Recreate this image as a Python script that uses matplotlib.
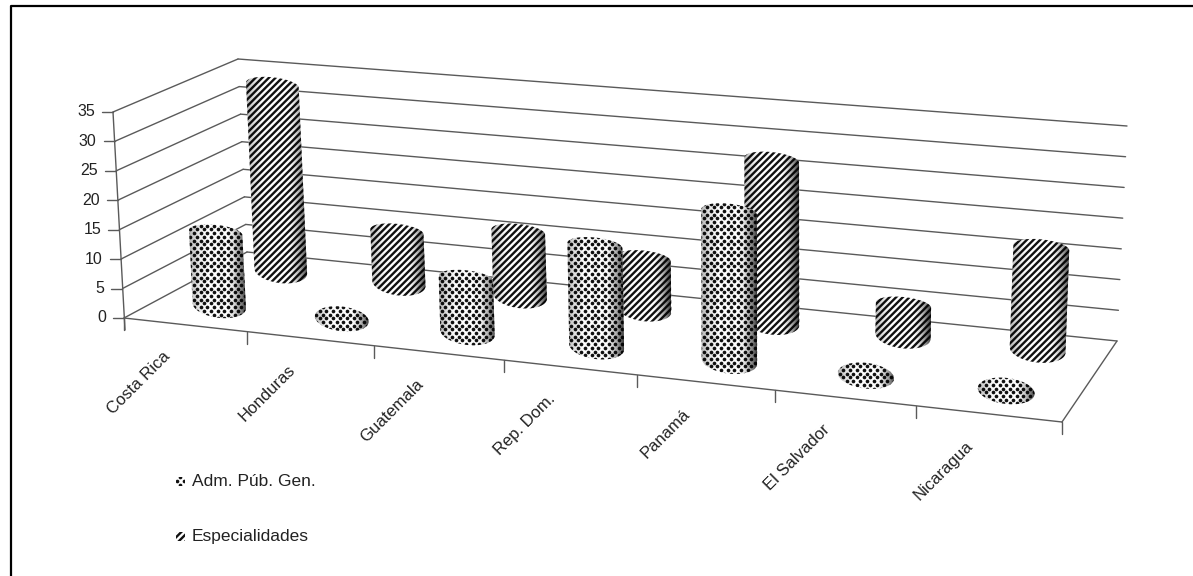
import numpy as np
import matplotlib
matplotlib.use("Agg")
import matplotlib.pyplot as plt
from matplotlib.patches import Polygon

categories = ["Costa Rica", "Honduras", "Guatemala", "Rep. Dom.", "Panamá", "El Salvador", "Nicaragua"]
adm = [12.5, 0, 9, 16.5, 24, 0, 0]
esp = [33, 9, 11, 8.5, 27, 5, 16.5]
y_ticks = [0, 5, 10, 15, 20, 25, 30, 35]
y_max = 35

plt.rcParams['font.family'] = ['Liberation Sans', 'DejaVu Sans']
plt.rcParams['hatch.linewidth'] = 1.7
LINE = '#5a5a5a'
INK = '#111111'

# corners of the fake 3d box, in pixels: front left, front right, back right, back left
floor = [(124, 318), (1062, 422), (1117, 341), (247, 252)]
ceil = [(113, 112), (1074, 192), (1127, 126), (238, 59)]


def homography(pts):
    src = [(0, 0), (1, 0), (1, 1), (0, 1)]
    A, b = [], []
    for (u, v), (x, y) in zip(src, pts):
        A.append([u, v, 1, 0, 0, 0, -u * x, -v * x])
        A.append([0, 0, 0, u, v, 1, -u * y, -v * y])
        b += [x, y]
    return np.append(np.linalg.solve(np.array(A, float), np.array(b, float)), 1).reshape(3, 3)


H_floor = homography(floor)
H_ceil = homography(ceil)


def project(cat, depth, val):
    # cat in category units, depth 0 front .. 1 back, val in chart units
    p = np.array([cat / len(categories), depth, 1.0])
    a = H_floor @ p
    c = H_ceil @ p
    a = a[:2] / a[2]
    c = c[:2] / c[2]
    t = val / y_max
    return a + (c - a) * t


def line3(p, q, **kw):
    kw.setdefault('color', LINE)
    kw.setdefault('lw', 1.0)
    ax.plot([p[0], q[0]], [p[1], q[1]], solid_capstyle='round', zorder=kw.pop('zorder', 2), **kw)


def dot_fill(poly, z, dx=6.8, dy=3.7, size=7):
    # staggered dot texture, hatch '.' comes out as rings here
    x0, y0 = poly.get_xy().min(axis=0)
    x1, y1 = poly.get_xy().max(axis=0)
    rows = np.arange(np.floor(y0 / dy), np.ceil(y1 / dy) + 1)
    px, py = [], []
    for r in rows:
        xs = np.arange(np.floor(x0 / dx) - 1, np.ceil(x1 / dx) + 1) * dx + (r % 2) * dx / 2
        px += list(xs)
        py += [r * dy] * len(xs)
    ax.scatter(px, py, s=size, color=INK, linewidths=0, zorder=z, clip_path=poly)


def filled(outline, style, z):
    hatch = '/////' if style == 'stripes' else None
    poly = Polygon(outline, closed=True, facecolor='white', edgecolor=INK, lw=0, hatch=hatch, zorder=z)
    ax.add_patch(poly)
    if style == 'dots':
        dot_fill(poly, z + 0.1)
    return poly


def cylinder(cat, depth, val, style, z):
    base = project(cat, depth, 0)
    top = project(cat, depth, val)
    # radius shrinks a little towards the back
    w = project(cat + 0.5, depth, 0)[0] - project(cat - 0.5, depth, 0)[0]
    rx = 0.08 * w + 17
    ry = 0.46 * rx
    ry_top = 0.3 * rx if val > 0 else ry
    t = np.linspace(0, np.pi, 60)
    low = np.c_[base[0] + rx * np.cos(t), base[1] + ry * np.sin(t) + 0.1 * rx * np.cos(t)]
    t2 = np.linspace(np.pi, 2 * np.pi, 60)
    up = np.c_[top[0] + rx * np.cos(t2), top[1] + ry_top * np.sin(t2) + 0.1 * rx * np.cos(t2)]
    outline = np.vstack([low, up])
    poly = filled(outline, style, z)
    # darker edges of the round side
    s = np.linspace(-1, 1, 80)
    shade = np.clip((np.abs(s) - 0.35) / 0.65, 0, 1) ** 1.6
    alpha = shade * np.where(s > 0, 0.75, 0.3)
    rgba = np.zeros((1, 80, 4))
    rgba[0, :, 3] = alpha
    left = min(base[0], top[0]) - rx
    right = max(base[0], top[0]) + rx
    im = ax.imshow(rgba, extent=[left, right, outline[:, 1].max(), outline[:, 1].min()],
                   aspect='auto', zorder=z + 0.2, interpolation='bilinear')
    im.set_clip_path(poly)


fig = plt.figure(figsize=(11.93, 5.76), dpi=100)
ax = fig.add_axes([0, 0, 1, 1])

# walls
for v in y_ticks:
    line3(project(0, 0, v), project(0, 1, v))
    line3(project(0, 1, v), project(len(categories), 1, v))
    p = project(0, 0, v)
    line3(p, p + np.array([-11, 0]))
    ax.text(p[0] - 18, p[1], str(v), ha='right', va='center', fontsize=11.5, color='#222222')

line3(project(0, 0, y_max), project(0, 0, 0) + np.array([1, 12]))
line3(project(0, 0, 0), project(len(categories), 0, 0))
line3(project(len(categories), 0, 0), project(len(categories), 1, 0))

# ticks and labels under the front edge
for i in range(len(categories) + 1):
    p = project(i, 0, 0)
    line3(p, p + np.array([0, 12]))
for i, name in enumerate(categories):
    p = project(i + 0.5, 0, 0)
    ax.text(p[0] - 23, p[1] + 24, name, rotation=45, rotation_mode='anchor', ha='right', va='top',
            fontsize=12, color='#222222')

# back row first
for i, v in enumerate(esp):
    cylinder(i + 0.5, 0.79, v, 'stripes', 5 + i)
for i, v in enumerate(adm):
    cylinder(i + 0.5, 0.27, v, 'dots', 15 + i)

# legend
filled([(176, 477), (185, 477), (185, 486), (176, 486)], 'dots', 3)
ax.text(192, 482, "Adm. Púb. Gen.", va='center', ha='left', fontsize=12.5, color='#222222')
filled([(176, 532), (185, 532), (185, 541), (176, 541)], 'stripes', 3)
ax.text(192, 536, "Especialidades", va='center', ha='left', fontsize=12.5, color='#222222')

# outer frame, only top and left reach the picture
ax.plot([11, 11, 1193], [576, 6, 6], color='black', lw=1.6, zorder=30)

ax.set_xlim(0, 1193)
ax.set_ylim(576, 0)
ax.axis('off')
fig.savefig('out.png', dpi=100)
